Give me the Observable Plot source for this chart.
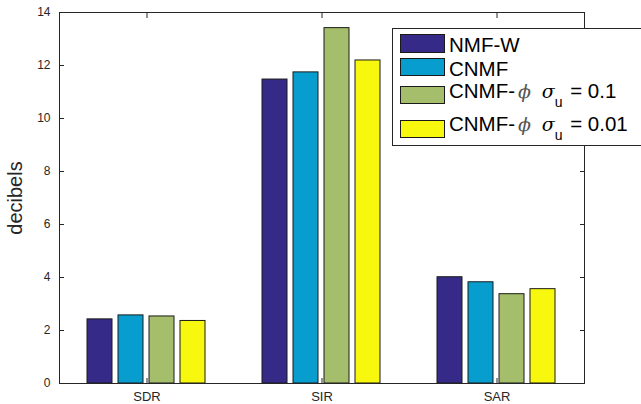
<!DOCTYPE html>
<html>
<head>
<meta charset="utf-8">
<script src="https://cdn.jsdelivr.net/npm/d3@7"></script>
<script src="https://cdn.jsdelivr.net/npm/@observablehq/plot@0.6"></script>
<style>
  body { margin: 0; background: #fff; }
  #wrap { position: relative; width: 641px; height: 404px; overflow: hidden; font-family: "Liberation Sans", Helvetica, Arial, sans-serif; }
  #legend { position: absolute; left: 392px; top: 28px; width: 300px; height: 118px; border: 1px solid #262626; background: #fff; box-sizing: border-box; }
  .sw { position: absolute; left: 7px; width: 45px; border: 1px solid #1a1a1a; box-sizing: border-box; }
  .lt { position: absolute; left: 56px; font-size: 20.5px; line-height: 20px; color: #000; white-space: nowrap; }
  .lt i.phi { font-family: "DejaVu Serif", serif; font-size: 19px; color: #555; margin-left: 3px; }
  .lt i.sig { font-family: "DejaVu Serif", serif; font-size: 19px; margin-left: 5px; }
  .lt sub { font-size: 14px; vertical-align: -9px; line-height: 0; margin-right: 2px; }
</style>
</head>
<body>
<div id="wrap"></div>
<script>
const categories = ["SDR", "SIR", "SAR"];
const seriesNames = ["NMF-W", "CNMF", "CNMF-phi 0.1", "CNMF-phi 0.01"];
const seriesColors = ["#352a87", "#079dcf", "#a5be6b", "#f7f80e"];
const legendLabels = [
  "NMF-W",
  "CNMF",
  'CNMF-<i class="phi">ϕ</i> <i class="sig">σ</i><sub>u</sub> = 0.1',
  'CNMF-<i class="phi">ϕ</i> <i class="sig">σ</i><sub>u</sub> = 0.01'
];
const sdrValues = [2.42, 2.57, 2.53, 2.36];
const sirValues = [11.47, 11.74, 13.41, 12.19];
const sarValues = [4.01, 3.82, 3.37, 3.56];
const yTicks = [0, 2, 4, 6, 8, 10, 12, 14];

const valuesByCategory = [sdrValues, sirValues, sarValues];
const data = categories.flatMap((c, i) =>
  seriesNames.map((s, j) => ({metric: c, series: s, value: valuesByCategory[i][j]}))
);

const axisColor = "#262626";
const chart = Plot.plot({
  width: 641,
  height: 404,
  marginLeft: 58,
  marginRight: 56,
  marginTop: 12,
  marginBottom: 21,
  style: {fontFamily: "'Liberation Sans', Helvetica, Arial, sans-serif", fontSize: "12px", color: axisColor, background: "#fff"},
  fx: {domain: categories, padding: 0, label: null},
  x: {domain: seriesNames, paddingInner: 0.178, paddingOuter: 0.835, axis: null},
  y: {domain: [0, 14], label: null},
  color: {domain: seriesNames, range: seriesColors},
  marks: [
    Plot.barY(data, {fx: "metric", x: "series", y: "value", fill: "series", stroke: "#1a1a1a", strokeWidth: 1}),
    Plot.frame({facet: "super", stroke: axisColor}),
    Plot.axisY({ticks: yTicks, tickSize: -5, tickFormat: () => "", stroke: axisColor}),
    Plot.axisY({ticks: yTicks, tickSize: 0, tickPadding: 9, fontSize: 12, fill: axisColor}),
    Plot.axisY({anchor: "right", ticks: yTicks, tickSize: -5, tickFormat: () => "", stroke: axisColor}),
    Plot.axisY({ticks: [], tickSize: 0, label: "decibels", labelAnchor: "center", labelArrow: "none", labelOffset: 52, fontSize: 20, fill: axisColor}),
    Plot.axisFx({anchor: "bottom", tickSize: -5, tickFormat: () => "", stroke: axisColor, label: null}),
    Plot.axisFx({anchor: "bottom", tickSize: 0, tickPadding: 8, fontSize: 13, fill: axisColor, label: null}),
    Plot.axisFx({anchor: "top", tickSize: -5, tickFormat: () => "", stroke: axisColor, label: null})
  ]
});

const wrap = document.getElementById("wrap");
wrap.appendChild(chart);

const legend = document.createElement("div");
legend.id = "legend";
const swatchTops = [5, 29, 57, 91];
const swatchHeights = [19, 18, 18, 18];
const textTops = [6, 30, 52, 85];
seriesColors.forEach((col, i) => {
  const sw = document.createElement("div");
  sw.className = "sw";
  sw.style.top = swatchTops[i] + "px";
  sw.style.height = swatchHeights[i] + "px";
  sw.style.background = col;
  legend.appendChild(sw);
  const t = document.createElement("div");
  t.className = "lt";
  t.style.top = textTops[i] + "px";
  t.innerHTML = legendLabels[i];
  legend.appendChild(t);
});
wrap.appendChild(legend);
</script>
</body>
</html>
